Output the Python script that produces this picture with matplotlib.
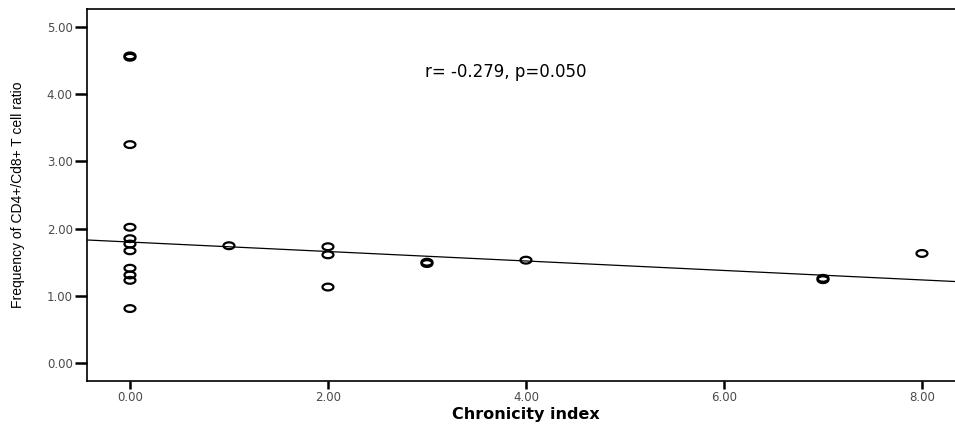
import matplotlib
matplotlib.use("Agg")
import matplotlib.pyplot as plt
import numpy as np
from matplotlib.path import Path

# ---- data ----
chronicity = [0, 0, 0, 0, 0, 0, 0, 0, 0, 0, 0,
              1, 2, 2, 2, 3, 3, 4, 7, 7, 8]
ratio = [4.57, 4.55, 3.25, 2.02, 1.85, 1.77, 1.67, 1.41, 1.31, 1.23, 0.81,
         1.745, 1.73, 1.61, 1.13, 1.48, 1.50, 1.53, 1.24, 1.26, 1.63]
fit_intercept = 1.80
fit_slope = -0.0705
x_ticks = [0, 2, 4, 6, 8]
y_ticks = [0, 1, 2, 3, 4, 5]
annotation = "r= -0.279, p=0.050"
x_label = "Chronicity index"
y_label = "Frequency of CD4+/Cd8+ T cell ratio"

fig = plt.figure(figsize=(9.55, 4.25), dpi=100)
ax_w = 1 - 86.7 / 955 + 0.01
ax = fig.add_axes([86.7 / 955, 44 / 425, ax_w, (381 - 9) / 425])

# elliptical open marker (the reference is horizontally stretched)
t = np.linspace(0, 2 * np.pi, 60)
ell = Path(np.column_stack([np.cos(t), 0.62 * np.sin(t)]), closed=True)

ax.scatter(chronicity, ratio, marker=ell, s=62, facecolors="none",
           edgecolors="black", linewidths=1.6, zorder=3)

xl = (-0.437, 8.43)
xs = np.array(xl)
ax.plot(xs, fit_intercept + fit_slope * xs, color="black", lw=0.9, zorder=2)

ax.set_xlim(*xl)
ax.set_ylim(-0.268, 5.268)
ax.set_xticks(x_ticks)
ax.set_xticklabels([f"{v:.2f}" for v in x_ticks])
ax.set_yticks(y_ticks)
ax.set_yticklabels([f"{v:.2f}" for v in y_ticks])

for s in ["left", "bottom", "top"]:
    ax.spines[s].set_linewidth(1.2)
ax.spines["right"].set_visible(False)

ax.tick_params(axis="y", length=9, width=1.8, labelsize=8.5, labelcolor="#4a4a4a",
               pad=1, direction="out")
ax.tick_params(axis="x", length=6, width=1.8, labelsize=8.5, labelcolor="#4a4a4a",
               pad=1.5, direction="out")
for lab in ax.get_xticklabels() + ax.get_yticklabels():
    lab.set_family("DejaVu Sans")

ax.set_xlabel(x_label, family="DejaVu Sans", fontsize=11.5, fontweight="bold",
              labelpad=2)
ax.set_ylabel(y_label, family="Liberation Sans", fontsize=10)
fig_w_px = 955
ax.yaxis.set_label_coords((25 - 86.7) / (ax_w * fig_w_px), 0.5)

ax.text(3.80, 4.33, annotation, ha="center", va="center",
        family="DejaVu Sans", fontsize=12)

fig.savefig("out.png", dpi=100)
